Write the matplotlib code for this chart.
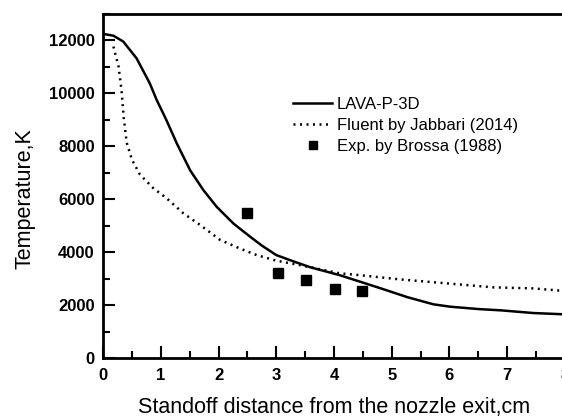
import matplotlib
matplotlib.use("Agg")
import matplotlib.pyplot as plt
from matplotlib.ticker import MultipleLocator

plt.rcParams["font.family"] = ["Liberation Sans", "DejaVu Sans"]

# LAVA-P-3D (solid)
lava_x = [0.0, 0.18, 0.35, 0.58, 0.81, 0.93, 1.1, 1.28, 1.51, 1.74, 1.97, 2.26,
          2.55, 2.75, 3.0, 3.3, 3.59, 4.1, 4.5, 4.8, 5.27, 5.72, 6.01, 6.5, 6.9,
          7.45, 8.0]
lava_t = [12250, 12180, 11960, 11330, 10380, 9750, 8980, 8100, 7090, 6340, 5710, 5080,
          4580, 4250, 3890, 3650, 3430, 3130, 2850, 2640, 2300, 2030, 1940, 1850, 1800,
          1700, 1650]

# Fluent by Jabbari (2014) (dotted)
fluent_x = [0.18, 0.27, 0.32, 0.36, 0.41, 0.5, 0.64, 0.87, 1.1, 1.39, 1.68, 2.03,
            2.37, 2.66, 3.0, 3.41, 4.1, 4.45, 5.15, 5.96, 6.76, 7.46, 7.95]
fluent_t = [11770, 11010, 10130, 9050, 8140, 7500, 6930, 6420, 6040, 5470, 5030, 4460,
            4140, 3890, 3680, 3510, 3200, 3130, 2970, 2820, 2670, 2630, 2540]

# Exp. by Brossa (1988)
exp_x = [2.5, 3.03, 3.52, 4.02, 4.49]
exp_t = [5470, 3200, 2940, 2600, 2530]

fig = plt.figure(figsize=(5.62, 4.18), dpi=100)
ax = fig.add_axes([0.1833, 0.1435, 0.8220, 0.8230])

ax.plot(lava_x, lava_t, color="black", lw=1.8, label="LAVA-P-3D")
ax.plot(fluent_x, fluent_t, color="black", lw=1.8, linestyle=(0, (0.8, 1.8)),
        label="Fluent by Jabbari (2014)")
ax.plot(exp_x, exp_t, linestyle="none", marker="s", color="black", ms=7,
        label="Exp. by Brossa (1988)")

ax.set_xlim(0, 8)
ax.set_ylim(0, 13000)
ax.xaxis.set_major_locator(MultipleLocator(1))
ax.xaxis.set_minor_locator(MultipleLocator(0.5))
ax.yaxis.set_major_locator(MultipleLocator(2000))
ax.yaxis.set_minor_locator(MultipleLocator(1000))
ax.tick_params(which="major", direction="in", length=8.5, width=1.5, labelsize=12)
ax.tick_params(which="minor", direction="in", length=5, width=1.5)
ax.tick_params(axis="x", pad=7)
ax.tick_params(axis="y", pad=6)
for lbl in ax.get_xticklabels() + ax.get_yticklabels():
    lbl.set_fontweight("bold")
for s in ax.spines.values():
    s.set_linewidth(2)

ax.set_xlabel("Standoff distance from the nozzle exit,cm", fontsize=15.5)
ax.set_ylabel("Temperature,K", fontsize=15.5)
ax.xaxis.set_label_coords(0.5, -0.143)
ax.xaxis.label.set_va("center")
ax.yaxis.set_label_coords(-0.169, 0.464)
ax.yaxis.label.set_va("center")

ax.legend(loc="upper left", bbox_to_anchor=(0.379, 0.802), frameon=False, fontsize=12,
          handlelength=2.34, handletextpad=0.3, labelspacing=0.36, markerscale=0.9)

fig.savefig("out.png", dpi=100)
